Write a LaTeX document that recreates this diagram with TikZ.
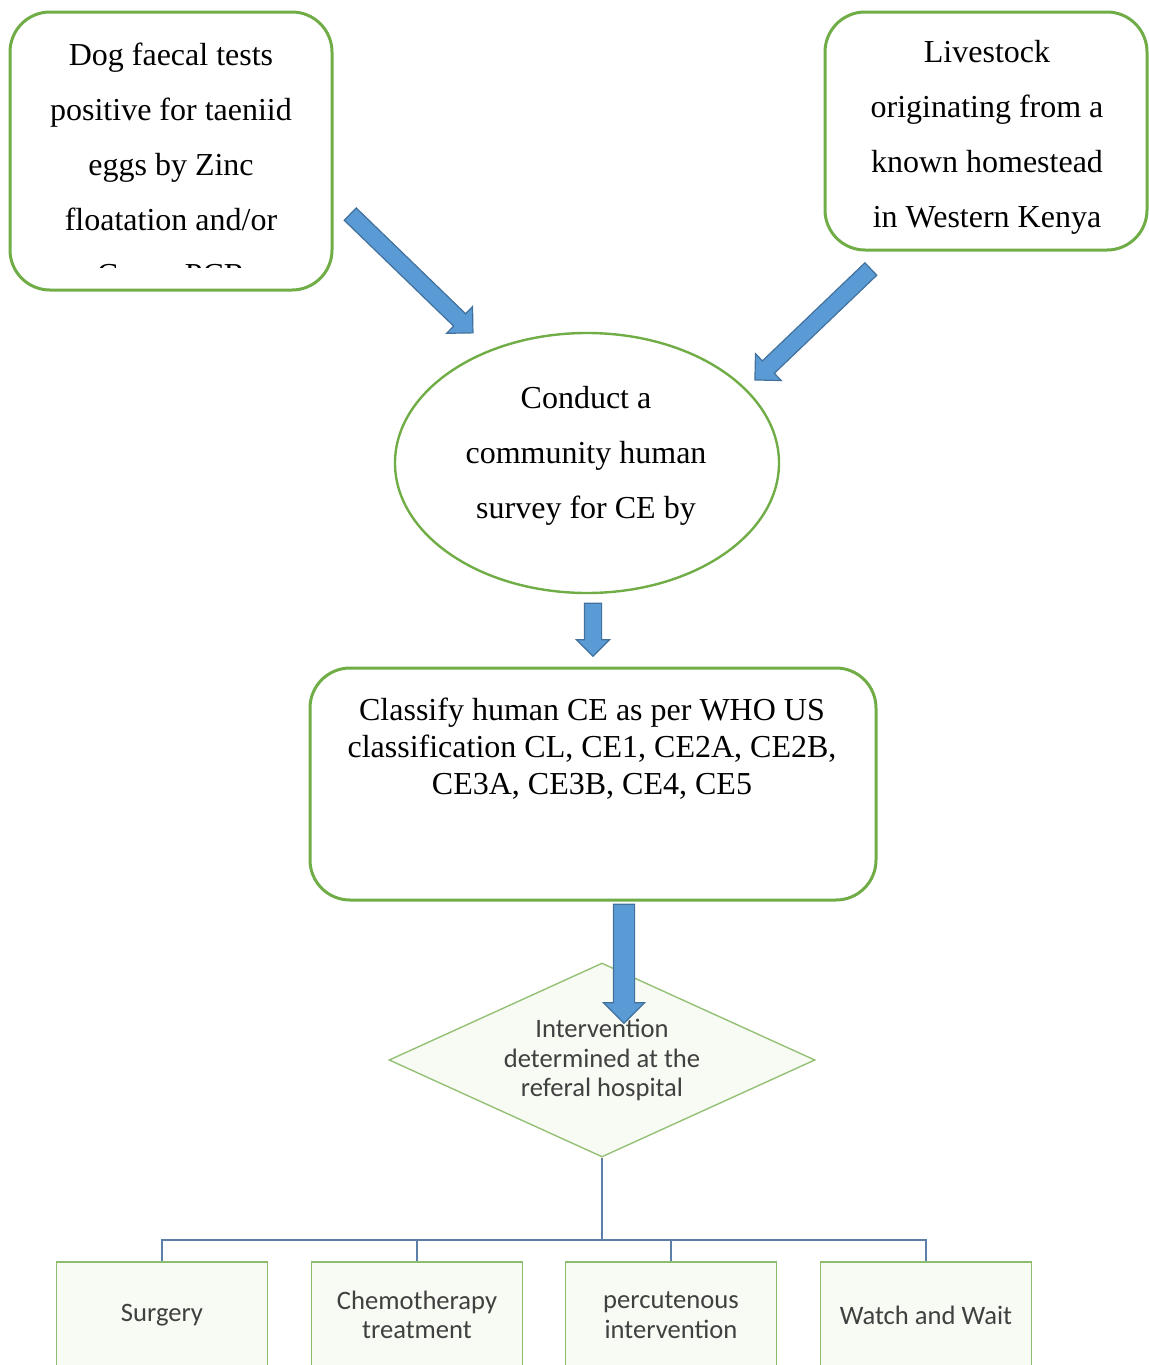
\documentclass[tikz,border=0pt]{standalone}
\usepackage{fontspec}
\setmainfont{Liberation Serif}
\newfontfamily\calibri{Carlito}
\usetikzlibrary{shapes.geometric, shapes.arrows, calc}

\definecolor{boxgreen}{HTML}{70AD47}
\definecolor{arrowblue}{HTML}{5B9BD5}
\definecolor{arrowedge}{HTML}{41719C}
\definecolor{treeblue}{HTML}{5B7FA6}
\definecolor{textgray}{HTML}{404040}
\definecolor{palegreen}{HTML}{F7FBF3}

\begin{document}
\begin{tikzpicture}[
            x = 0.5pt, y = -0.5pt, % one unit = one pixel of the scan
            semithick
        ]

        \tikzstyle{roundbox}=[
            draw = boxgreen,
            line width = 1.5pt,
            rounded corners = 20pt,
            fill = white
        ]
        \tikzstyle{serif text}=[
            align = center,
            inner sep = 0pt,
            font = \fontsize{16}{27.5}\selectfont
        ]
        \tikzstyle{option}=[
            draw = boxgreen!80,
            line width = 0.7pt,
            fill = palegreen,
            minimum width = 105.5pt,
            minimum height = 53pt,
            align = center,
            text = textgray,
            font = \calibri\fontsize{13.3}{14.75}\selectfont
        ]
        \tikzstyle{fat arrow}=[
            single arrow,
            draw = arrowedge,
            fill = arrowblue,
            line width = 0.6pt,
            inner xsep = 0pt,
            inner ysep = 4pt,
            single arrow head extend = 5pt,
            sloped, allow upside down
        ]
        \tikzstyle{branch}=[draw = treeblue, line width = 1pt]

        % the picture is cut at the edges of the page
        \clip (0,0) rectangle (1149,1365);

        \node[roundbox, minimum width = 161pt, minimum height = 139pt] (dog) at (171,151) {};
        \node[roundbox, minimum width = 161pt, minimum height = 119pt] (livestock) at (986,131) {};
        \node[ellipse, draw = boxgreen, line width = 1.2pt, minimum width = 192pt, minimum height = 130pt] (survey) at (587,463) {};
        \node[roundbox, minimum width = 283pt, minimum height = 116pt] (classify) at (593,784) {};
        \node[diamond, draw = boxgreen!75, line width = 0.7pt, fill = palegreen,
              shape aspect = 2.2, minimum width = 213pt, minimum height = 97pt, inner sep = 0pt,
              align = center, text = textgray,
              font = \calibri\fontsize{13.3}{14.75}\selectfont] (intervene) at (602,1060)
              {Intervention\\determined at the\\referal hospital};

        % texts of the upper boxes
        \begin{scope}
            \clip (0,0) rectangle (340,267);
            \node[serif text, anchor = north] (dog text) at (171,42)
                {Dog faecal tests\\positive for taeniid\\eggs by Zinc\\floatation and/or\\Copro PCR};
        \end{scope}
        \node[serif text, anchor = north] (livestock text) at (987,40)
            {Livestock\\originating from a\\known homestead\\in Western Kenya};
        \node[serif text, anchor = north] (survey text) at (586,386)
            {Conduct a\\community human\\survey for CE by};
        \node[serif text, anchor = north, font = \fontsize{16}{18.5}\selectfont] (classify text) at (592,697)
            {Classify human CE as per WHO US\\classification CL, CE1, CE2A, CE2B,\\CE3A, CE3B, CE4, CE5};

        % the four interventions
        \node[option] (surgery) at (162,1315) {Surgery};
        \node[option] (chemo) at (417,1315) {Chemotherapy\\treatment};
        \node[option] (percut) at (671,1315) {percutenous\\intervention};
        \node[option] (watch) at (926,1315) {Watch and Wait};

        \coordinate (split) at (602,1240);
        \draw[branch] (intervene.south) -- (split);
        \foreach \opt in {surgery, chemo, percut, watch}
            \draw[branch] (split) -| (\opt.north);

        % block arrows
        \coordinate (dog tail) at (347,211);
        \coordinate (dog tip) at (470,330);
        \coordinate (livestock tail) at (874,266);
        \coordinate (livestock tip) at (758,377);
        \coordinate (survey tail) at (593,599);
        \coordinate (survey tip) at (593,652);
        \coordinate (classify tail) at (624,899);
        \coordinate (classify tip) at (624,1018);

        \foreach \from/\to/\shaft/\head in {dog tail/dog tip/4pt/5pt, livestock tail/livestock tip/4pt/5pt,
                                           survey tail/survey tip/4pt/4pt, classify tail/classify tip/5pt/5pt}
            \path let \p1 = ($(\to)-(\from)$), \n1 = {veclen(\x1,\y1)} in
                (\from) -- (\to) node[fat arrow, midway, inner ysep = \shaft,
                                      single arrow head extend = \head, minimum height = \n1] {};

\end{tikzpicture}
\end{document}
